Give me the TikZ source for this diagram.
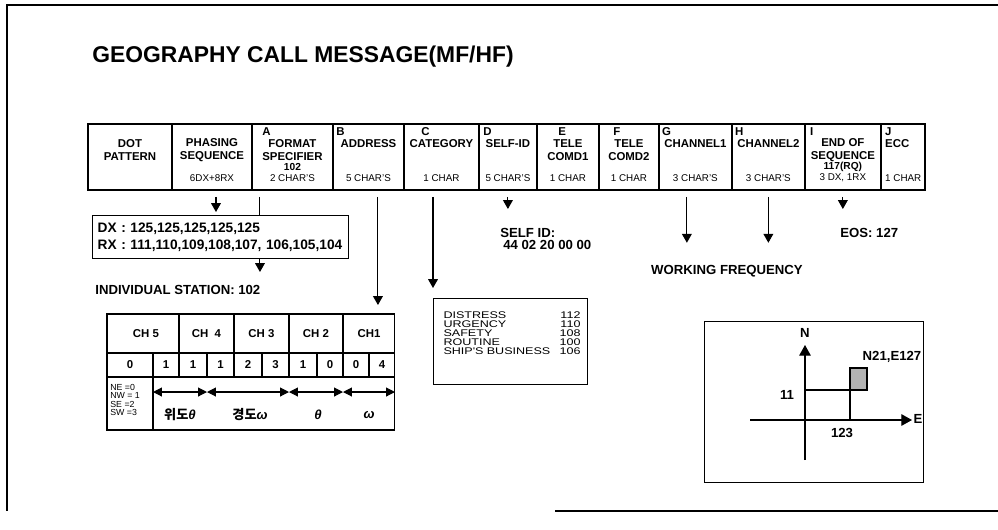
\documentclass[tikz,border=0pt]{standalone}
\usepackage{fontspec}
\setmainfont{Liberation Sans}
\newfontfamily\krfont{Noto Sans CJK KR}
\newfontfamily\widefont[FakeStretch=1.3]{Liberation Sans}
\usetikzlibrary{positioning, arrows.meta, calc}

\begin{document}
\begin{tikzpicture}[
        x=0.02cm, y=-0.02cm,
        field/.style={draw, thick, outer sep=0pt, inner sep=0pt, minimum height=1.32cm},
        fieldname/.style={font=\bfseries\fontsize{6.5}{7.4}\selectfont, align=center, inner sep=0pt},
        fieldkey/.style={font=\bfseries\fontsize{6.5}{7.4}\selectfont, anchor=west, inner sep=0pt},
        fieldsize/.style={font=\fontsize{5.6}{7}\selectfont, inner sep=0pt},
        tag/.style={font=\bfseries\fontsize{7.5}{9}\selectfont, inner sep=0pt},
        cell/.style={font=\bfseries\fontsize{6.5}{7}\selectfont, inner sep=0pt},
        arrow/.style={-{Triangle[width=5.5pt,length=5pt]}, semithick, shorten <=0.14cm},
        plainline/.style={semithick, shorten <=0.14cm},
        dbl_arrow/.style={{Triangle[width=5pt,length=5pt]}-{Triangle[width=5pt,length=5pt]}, semithick},
        axis_arrow/.style={-{Triangle[width=6.5pt,length=6pt]}, semithick}
    ]
    \useasboundingbox (0,0) rectangle (998,529);
    % outer frame and title
    \draw[semithick] (998,5) -- (7,5) -- (7,511);
    \draw[semithick] (555,511) -- (998,511);
    \node[font=\bfseries\fontsize{13}{15}\selectfont, anchor=west, inner sep=0pt] (title) at (92,57) {GEOGRAPHY CALL MESSAGE(MF/HF)};

    % message fields
    \node[field, anchor=north west, minimum width=1.68cm] (dot) at (88,124) {};
    \node[field, minimum width=1.60cm, right=0pt of dot] (phasing) {};
    \node[field, minimum width=1.62cm, right=0pt of phasing] (format) {};
    \node[field, minimum width=1.42cm, right=0pt of format] (address) {};
    \node[field, minimum width=1.50cm, right=0pt of address] (category) {};
    \node[field, minimum width=1.16cm, right=0pt of category] (selfid) {};
    \node[field, minimum width=1.24cm, right=0pt of selfid] (telea) {};
    \node[field, minimum width=1.20cm, right=0pt of telea] (teleb) {};
    \node[field, minimum width=1.46cm, right=0pt of teleb] (chana) {};
    \node[field, minimum width=1.46cm, right=0pt of chana] (chanb) {};
    \node[field, minimum width=1.52cm, right=0pt of chanb] (eos) {};
    \node[field, minimum width=0.88cm, right=0pt of eos] (ecc) {};

    % field letters
    \node[fieldkey] (format-key) at ($(format.north west)+(10,8)$) {A};
    \node[fieldkey] (address-key) at ($(address.north west)+(3,8)$) {B};
    \node[fieldkey] (category-key) at ($(category.north west)+(17,8)$) {C};
    \node[fieldkey] (selfid-key) at ($(selfid.north west)+(4,8)$) {D};
    \node[fieldkey] (telea-key) at ($(telea.north west)+(21,8)$) {E};
    \node[fieldkey] (teleb-key) at ($(teleb.north west)+(14,8)$) {F};
    \node[fieldkey] (chana-key) at ($(chana.north west)+(3,8)$) {G};
    \node[fieldkey] (chanb-key) at ($(chanb.north west)+(3,8)$) {H};
    \node[fieldkey] (eos-key) at ($(eos.north west)+(5,8)$) {I};
    \node[fieldkey] (ecc-key) at ($(ecc.north west)+(4,8)$) {J};

    % field names
    \node[fieldname] (dot-name) at ($(dot.north)+(0,26.5)$) {DOT\\PATTERN};
    \node[fieldname] (phasing-name) at ($(phasing.north)+(0,26.5)$) {PHASING\\SEQUENCE};
    \node[fieldname] (format-name) at ($(format.north)+(0,26.5)$) {FORMAT\\SPECIFIER};
    \node[fieldname] (address-name) at ($(address.north)+(0,20)$) {ADDRESS};
    \node[fieldname] (category-name) at ($(category.north)+(0,20)$) {CATEGORY};
    \node[fieldname] (selfid-name) at ($(selfid.north)+(0,20)$) {SELF-ID};
    \node[fieldname] (telea-name) at ($(telea.north)+(0,26.5)$) {TELE\\COMD1};
    \node[fieldname] (teleb-name) at ($(teleb.north)+(0,26.5)$) {TELE\\COMD2};
    \node[fieldname] (chana-name) at ($(chana.north)+(0,20)$) {CHANNEL1};
    \node[fieldname] (chanb-name) at ($(chanb.north)+(0,20)$) {CHANNEL2};
    \node[fieldname] (eos-name) at ($(eos.north)+(0,26.5)$) {END OF\\SEQUENCE};
    \node[fieldname, anchor=west] (ecc-name) at ($(ecc.north west)+(4,20)$) {ECC};

    % values and sizes
    \node[fieldsize, font=\bfseries\fontsize{5.8}{7}\selectfont] (format-value) at ($(format.north)+(0,43)$) {102};
    \node[fieldsize, font=\bfseries\fontsize{5.8}{7}\selectfont] (eos-value) at ($(eos.north)+(0,43)$) {117(RQ)};
    \node[fieldsize] (phasing-size) at ($(phasing.north)+(0,54)$) {6DX+8RX};
    \node[fieldsize] (format-size) at ($(format.north)+(0,54)$) {2 CHAR'S};
    \node[fieldsize] (address-size) at ($(address.north)+(0,54)$) {5 CHAR'S};
    \node[fieldsize] (category-size) at ($(category.north)+(0,54)$) {1 CHAR};
    \node[fieldsize] (selfid-size) at ($(selfid.north)+(0,54)$) {5 CHAR'S};
    \node[fieldsize] (telea-size) at ($(telea.north)+(0,54)$) {1 CHAR};
    \node[fieldsize] (teleb-size) at ($(teleb.north)+(0,54)$) {1 CHAR};
    \node[fieldsize] (chana-size) at ($(chana.north)+(0,54)$) {3 CHAR'S};
    \node[fieldsize] (chanb-size) at ($(chanb.north)+(0,54)$) {3 CHAR'S};
    \node[fieldsize] (eos-size) at ($(eos.north)+(0,54)$) {3 DX, 1RX};
    \node[fieldsize, anchor=west] (ecc-size) at ($(ecc.north west)+(4,54)$) {1 CHAR};

    % phasing and format details
    \node[draw, thick, anchor=north west, align=left, text width=4.92cm, inner xsep=0.1cm, inner ysep=0pt,
          minimum height=0.86cm, font=\bfseries\fontsize{7.8}{9.6}\selectfont] (dxrx) at (92,215)
          {DX : 125,125,125,125,125\\RX : 111,110,109,108,107, 106,105,104};
    \node[tag, anchor=west] (station) at (95,290) {INDIVIDUAL STATION: 102};
    \coordinate (phasedrop) at ($(phasing.south)+(4,0)$);
    \coordinate (fmtdrop) at ($(format.south west)+(8,0)$);
    \draw[arrow, shorten >=0.06cm] (phasedrop) -- (phasedrop |- dxrx.north);
    \draw[plainline] (fmtdrop) -- (fmtdrop |- dxrx.north);
    \draw[arrow, shorten <=0pt, shorten >=0.26cm] (fmtdrop |- dxrx.south) -- (fmtdrop |- station.north);

    % channel table
    \node[draw, semithick, outer sep=0pt, anchor=north west, minimum width=5.76cm, minimum height=2.32cm] (chtable) at (107,314) {};
    \draw[semithick] (107,353) -- (395,353);
    \draw[semithick] (107,377) -- (395,377);
    \draw[semithick] (179,314) -- (179,377);
    \draw[semithick] (234,314) -- (234,377);
    \draw[semithick] (289,314) -- (289,377);
    \draw[semithick] (343,314) -- (343,377);
    \draw[semithick] (153,353) -- (153,430);
    \draw[semithick] (207,353) -- (207,377);
    \draw[semithick] (262,353) -- (262,377);
    \draw[semithick] (317,353) -- (317,377);
    \draw[semithick] (369,353) -- (369,377);
    \node[cell] (ch5) at (146,333.5) {CH 5};
    \node[cell] (ch4) at (206.5,333.5) {CH\ \ 4};
    \node[cell] (ch3) at (261.5,333.5) {CH 3};
    \node[cell] (ch2) at (316,333.5) {CH 2};
    \node[cell] (ch1) at (369,333.5) {CH1};
    \node[cell] (d0) at (130,365) {0};
    \node[cell] (d1) at (166,365) {1};
    \node[cell] (d2) at (193,365) {1};
    \node[cell] (d3) at (220.5,365) {1};
    \node[cell] (d4) at (248,365) {2};
    \node[cell] (d5) at (275.5,365) {3};
    \node[cell] (d6) at (303,365) {1};
    \node[cell] (d7) at (330,365) {0};
    \node[cell] (d8) at (356,365) {0};
    \node[cell] (d9) at (382,365) {4};
    \node[font=\fontsize{5}{4.9}\selectfont, align=left, anchor=west, inner sep=0pt] (quadrant) at (110,400) {NE =0\\NW = 1\\SE =2\\SW =3};
    \draw[dbl_arrow] (153,392) -- (207,392);
    \draw[dbl_arrow] (207,392) -- (289,392);
    \draw[dbl_arrow] (289,392) -- (343,392);
    \draw[dbl_arrow] (343,392) -- (395,392);
    \node[font=\krfont\bfseries\fontsize{7.5}{8}\selectfont, inner sep=0pt] (lat-a) at (180,415) {위도{\rmfamily\bfseries\itshape θ}};
    \node[font=\krfont\bfseries\fontsize{7.5}{8}\selectfont, inner sep=0pt] (lon-a) at (250,415) {경도{\rmfamily\bfseries\itshape ω}};
    \node[font=\bfseries\itshape\fontsize{7.5}{8}\selectfont, inner sep=0pt] (lat-b) at (318,415) {θ};
    \node[font=\bfseries\itshape\fontsize{7.5}{8}\selectfont, inner sep=0pt] (lon-b) at (369,415) {ω};
    \coordinate (adrdrop) at ($(address.south)+(9.5,0)$);
    \draw[arrow, shorten >=0.18cm] (adrdrop) -- (adrdrop |- chtable.north);

    % category list
    \node[draw, semithick, anchor=north west, inner sep=0pt, minimum width=3.08cm, minimum height=1.72cm] (catbox) at (433,298) {};
    \node[font=\widefont\fontsize{5.5}{5.1}\selectfont, text width=2.74cm, align=left, inner sep=0pt] (catlist) at ($(catbox.center)+(1.5,-8.5)$)
          {DISTRESS\hfill 112\\URGENCY\hfill 110\\SAFETY\hfill 108\\ROUTINE\hfill 100\\SHIP'S BUSINESS\hfill 106};
    \draw[arrow, shorten >=0.2cm] (catbox.north west |- category.south) -- (catbox.north west);

    % self id, working frequency, end of sequence
    \node[tag, anchor=west] (selfid-title) at (500,233) {SELF ID:};
    \node[tag, anchor=west] (selfid-code) at (503,245) {44 02 20 00 00};
    \draw[arrow, shorten >=0.38cm] (selfid.south) -- (selfid.south |- selfid-title.north);
    \node[tag] (workfreq) at (727,271) {WORKING FREQUENCY};
    \coordinate (chadrop) at ($(chana.south)+(-8.5,0)$);
    \draw[arrow, shorten >=0.44cm] (chadrop) -- (chadrop |- workfreq.north);
    \draw[arrow, shorten >=0.44cm] (chanb.south) -- (chanb.south |- workfreq.north);
    \node[tag, anchor=west] (eos-text) at (840,233) {EOS: 127};
    \draw[arrow, shorten >=0.38cm] (eos.south) -- (eos.south |- eos-text.north);

    % position example
    \node[draw, semithick, anchor=north west, minimum width=4.38cm, minimum height=3.22cm] (compass) at (704,321) {};
    \draw[axis_arrow] (805,460) -- (805,345);
    \draw[axis_arrow] (750,420) -- (912,420);
    \draw[semithick] (805,390) -- (850,390) -- (850,420);
    \draw[semithick, fill=black!30] (850,368) rectangle (867,390);
    \node[tag] (north) at (805,333) {N};
    \node[tag] (east) at (918,419) {E};
    \node[tag] (posn) at (892,357) {N21,E127};
    \node[tag] (lat-val) at (787,395) {11};
    \node[tag] (lon-val) at (842,433) {123};
\end{tikzpicture}
\end{document}
